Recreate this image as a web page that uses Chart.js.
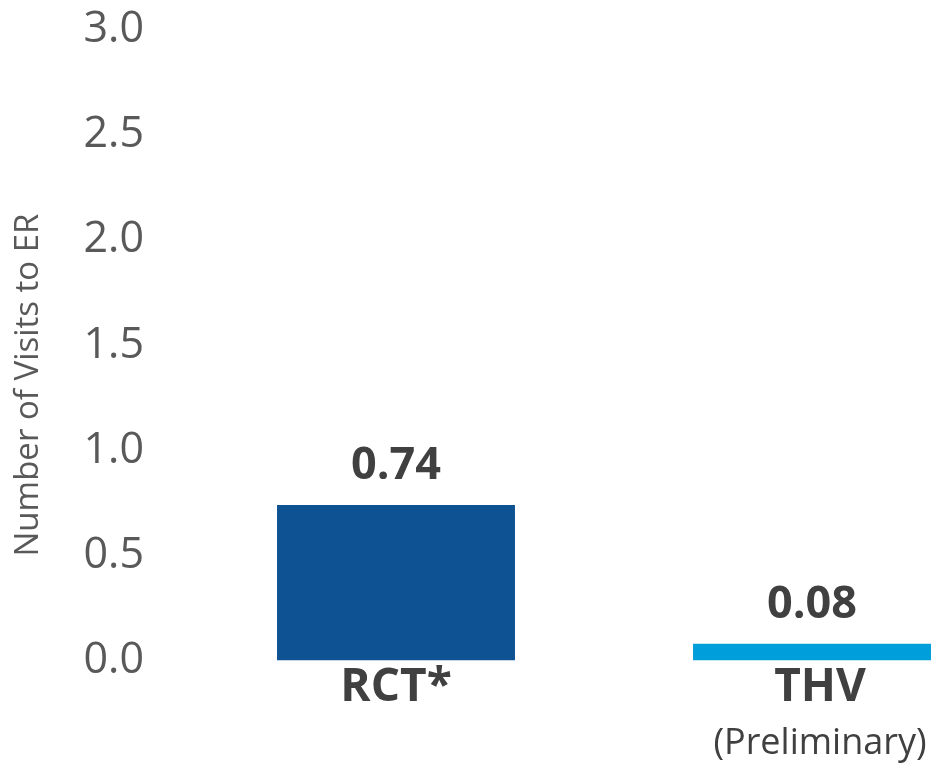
<!DOCTYPE html>
<html>
<head>
<meta charset="utf-8">
<script src="https://cdn.jsdelivr.net/npm/chart.js@4/dist/chart.umd.min.js"></script>
<style>
  html, body { margin: 0; padding: 0; background: #fff; overflow: hidden; }
  #caja { position: relative; width: 1030px; height: 763px; }
</style>
</head>
<body>
<div id="caja"><canvas id="grafico"></canvas></div>
<script>
// datos
const categorias = ["RCT*", "THV"];
const subEtiquetas = ["", "(Preliminary)"];
const visitas = [0.74, 0.08];
const colores = ["#0E5294", "#009EDB"];
const yMin = 0, yMax = 3, yPaso = 0.5;
const tituloY = "Number of Visits to ER";

const fuente = "'Open Sans', 'Liberation Sans', sans-serif";

// etiquetas de valor, categorias y titulo del eje
const etiquetas = {
  id: "etiquetas",
  afterDatasetsDraw(chart) {
    const ctx = chart.ctx;
    const meta = chart.getDatasetMeta(0);
    const x = chart.scales.x;
    ctx.save();
    ctx.fillStyle = "#404040";
    ctx.textAlign = "center";
    ctx.textBaseline = "alphabetic";
    meta.data.forEach((bar, i) => {
      ctx.font = "bold 45px " + fuente;
      ctx.fillText(visitas[i].toFixed(2), bar.x, bar.y - 26);
      // el bloque con subtitulo va un poco corrido a la derecha
      const cx = x.getPixelForValue(i) + (subEtiquetas[i] ? 8 : 0);
      ctx.font = "bold 46px " + fuente;
      ctx.fillText(categorias[i], cx, 701);
      if (subEtiquetas[i]) {
        ctx.font = "36px " + fuente;
        ctx.fillText(subEtiquetas[i], cx, 754);
      }
    });
    // titulo del eje y
    ctx.translate(29, 385);
    ctx.rotate(-Math.PI / 2);
    ctx.font = "33px " + fuente;
    ctx.fillStyle = "#595959";
    ctx.textBaseline = "middle";
    ctx.fillText(tituloY, 0, 0);
    ctx.restore();
  },
};

new Chart(document.getElementById("grafico"), {
  type: "bar",
  data: {
    labels: categorias,
    datasets: [
      {
        data: visitas,
        backgroundColor: colores,
        barPercentage: 0.572,
        categoryPercentage: 1,
      },
    ],
  },
  options: {
    responsive: true,
    maintainAspectRatio: false,
    animation: false,
    layout: { padding: { top: 30, right: 10, bottom: 0, left: 0 } },
    plugins: {
      legend: { display: false },
      tooltip: { enabled: false },
    },
    scales: {
      x: {
        grid: { display: false },
        border: { display: false },
        ticks: { display: false },
        afterFit: (scale) => { scale.height = 102.5; },
      },
      y: {
        min: yMin,
        max: yMax,
        grid: { display: false },
        border: { display: false },
        ticks: {
          stepSize: yPaso,
          padding: 36,
          color: "#595959",
          font: { family: fuente, size: 43 },
          callback: (v) => Number(v).toFixed(1),
        },
        afterFit: (scale) => {
          scale.width = 188;
          scale.paddingTop = 0;
          scale.paddingBottom = 0;
        },
      },
    },
  },
  plugins: [etiquetas],
});
</script>
</body>
</html>
